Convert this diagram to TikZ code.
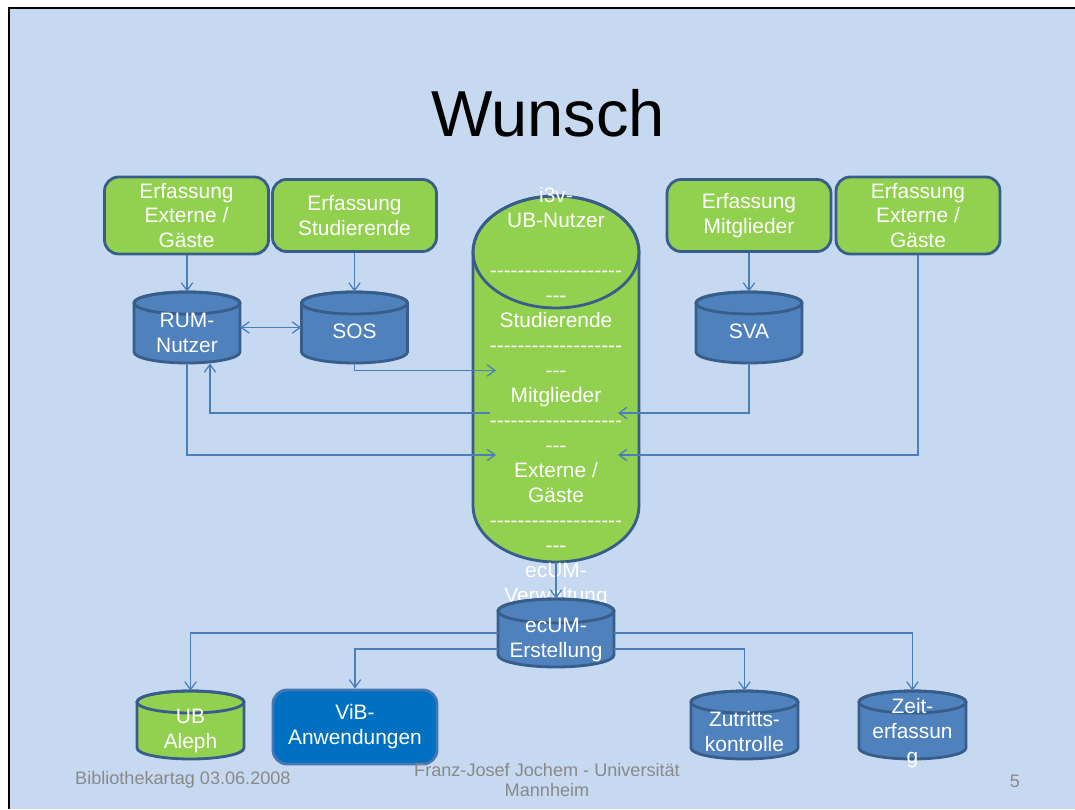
\documentclass[tikz,border=0pt]{standalone}
\usepackage{fontspec}
\setmainfont{Liberation Sans}
\usetikzlibrary{arrows.meta}

\definecolor{folie}{RGB}{198,217,241}
\definecolor{gruen}{RGB}{146,208,80}
\definecolor{zylblau}{RGB}{79,129,189}
\definecolor{rand}{RGB}{56,93,138}
\definecolor{pfeil}{RGB}{74,126,187}
\definecolor{vibblau}{RGB}{0,112,192}
\definecolor{vibrand}{RGB}{68,117,180}
\definecolor{fussgrau}{RGB}{137,137,137}

% Trennlinien aus einzelnen Bindestrichen (keine Ligaturen)
\newcommand{\trenner}{\foreach \i in {1,...,19}{\mbox{-}}}
\newcommand{\kurz}{\mbox{-}\mbox{-}\mbox{-}}

% Zylinder: Name, x, y, halbe Breite, halbe Hoehe, Deckelradius, Farbe, Text, Textversatz
\newcommand{\dbzylinder}[9]{%
  \filldraw[zyl, fill=#7] (#2-#4,#3+#5-#6) -- (#2-#4,#3-#5+#6)
    arc[start angle=180, end angle=360, x radius=#4, y radius=#6]
    -- (#2+#4,#3+#5-#6)
    arc[start angle=0, end angle=180, x radius=#4, y radius=#6] -- cycle;
  \draw[zyl] (#2,#3+#5-#6) ellipse[x radius=#4, y radius=#6];
  \node[inner sep=0pt, minimum width={2*#4cm}, minimum height={2*#5cm}] (#1) at (#2,#3) {};
  \node[zyltext] at ([yshift=#9cm]#1.center) {#8};
}

\tikzset{
  erfassung/.style={draw=rand, fill=gruen, line width=1.6pt, rounded corners=8pt,
    text=white, minimum width=3.28cm, minimum height=1.44cm, align=center},
  zyl/.style={draw=rand, line width=1.6pt},
  zyltext/.style={text=white, align=center},
  conn/.style={draw=pfeil, line width=0.7pt, ->},
  fuss/.style={text=fussgrau, align=center, font=\fontsize{10.3}{11.3}\selectfont},
}

\begin{document}
\begin{tikzpicture}[font=\fontsize{11.9}{14.2}\selectfont,
    >={Straight Barb[length=4.5pt,width=6.5pt]}]
    \useasboundingbox (0,0) rectangle (21.5,16.18);
    \fill[white] (0,0) rectangle (21.5,16.18);
    \fill[folie] (0.18,0) rectangle (21.5,16.02);
    \draw[black, line width=1pt] (0.18,0) -- (0.18,16.02) -- (21.5,16.02);

    \node[font=\fontsize{37}{44}\selectfont] (titel) at (10.96,13.92) {Wunsch};

    % Erfassung
    \node[erfassung] (e1) at (3.73,11.87) {Erfassung\\Externe /\\Gäste};
    \node[erfassung] (e2) at (7.09,11.87) {Erfassung\\Studierende};
    \node[erfassung] (e3) at (14.98,11.87) {Erfassung\\Mitglieder};
    \node[erfassung] (e4) at (18.36,11.87) {Erfassung\\Externe /\\Gäste};

    % Datenbanken
    \dbzylinder{rum}{3.74}{9.63}{1.06}{0.71}{0.22}{zylblau}{RUM-\\Nutzer}{-0.1}
    \dbzylinder{sos}{7.09}{9.63}{1.06}{0.71}{0.22}{zylblau}{SOS}{-0.07}
    \dbzylinder{sva}{14.98}{9.63}{1.06}{0.71}{0.22}{zylblau}{SVA}{-0.07}
    \dbzylinder{ub}{11.12}{8.60}{1.66}{3.66}{1.12}{gruen}{i3v-\\UB-Nutzer\\\mbox{}\\\trenner\\\kurz\\Studierende\\\trenner\\\kurz\\Mitglieder\\\trenner\\\kurz\\Externe /\\Gäste\\\trenner\\\kurz\\ecUM-\\Verwaltung}{-0.36}
    \dbzylinder{ecum}{11.12}{3.52}{1.16}{0.68}{0.24}{zylblau}{ecUM-\\Erstellung}{-0.14}
    \dbzylinder{aleph}{3.81}{1.68}{1.07}{0.68}{0.22}{gruen}{UB\\Aleph}{-0.12}
    \dbzylinder{zut}{14.89}{1.68}{1.07}{0.68}{0.22}{zylblau}{Zutritts-\\kontrolle}{-0.13}
    \dbzylinder{zeit}{18.25}{1.68}{1.07}{0.68}{0.22}{zylblau}{Zeit-\\erfassun\\g}{-0.16}
    \node[erfassung, fill=vibblau, draw=vibrand, minimum height=1.48cm] (vib) at (7.10,1.64) {ViB-\\Anwendungen};

    % Verbindungen
    \coordinate (studIn) at (9.92,8.77);
    \coordinate (mitOut) at (9.80,7.92);
    \coordinate (extIn) at (9.92,7.08);
    \coordinate (mitIn) at (12.36,7.92);
    \coordinate (gastIn) at (12.36,7.08);

    \draw[conn] (rum.north |- e1.south) -- (rum.north);
    \draw[conn] (e2.south) -- (sos.north);
    \draw[conn] (e3.south) -- (sva.north);
    \draw[conn, <->] (rum.east) -- (sos.west);
    \draw[conn] (sos.south) |- (studIn);
    \draw[conn] (mitOut) -| ([xshift=0.46cm]rum.south);
    \draw[conn] (rum.south) |- (extIn);
    \draw[conn] (sva.south) |- (mitIn);
    \draw[conn] (e4.south) |- (gastIn);
    \draw[conn] (ub.south) -- (ecum.north);
    \draw[conn] (ecum.west) -| (aleph.north);
    \draw[conn] ([yshift=-0.32cm]ecum.west) -| (vib.north);
    \draw[conn] ([yshift=-0.32cm]ecum.east) -| (zut.north);
    \draw[conn] (ecum.east) -| (zeit.north);

    % Fusszeile
    \node[fuss, anchor=west] (datum) at (1.38,0.58) {Bibliothekartag 03.06.2008};
    \node[fuss] (autor) at (10.94,0.58) {Franz-Josef Jochem - Universität\\Mannheim};
    \node[fuss] (seite) at (20.30,0.56) {5};
\end{tikzpicture}
\end{document}
